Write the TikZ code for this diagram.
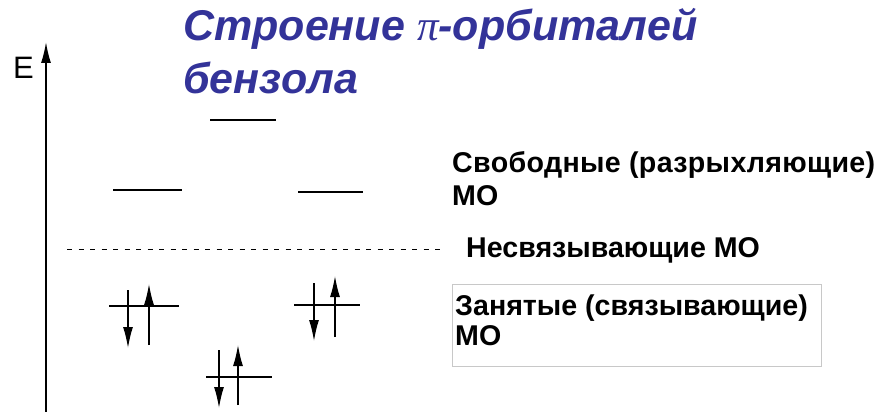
\documentclass[tikz,border=0pt]{standalone}
\usepackage{fontspec}
\setmainfont{Liberation Sans}
\newfontfamily\piserif{Liberation Serif}
\usetikzlibrary{arrows.meta}
\definecolor{titleblue}{RGB}{51,51,153}
\definecolor{boxgrey}{RGB}{200,200,200}
\tikzset{
  level/.style={line width=1.6pt},
  spinup/.style={line width=1.4pt,-{Latex[length=21pt,width=10pt]}},
  spindown/.style={line width=1.4pt,-{Latex[length=21pt,width=10pt]}},
  label/.style={anchor=base west,inner sep=0pt,font=\fontsize{28.6}{30}\selectfont\bfseries,align=left},
}
\begin{document}
\begin{tikzpicture}[x=1pt,y=-1pt]
\useasboundingbox[fill=white] (0,0) rectangle (879,412);

% energy axis
\coordinate (axb) at (46,412);
\coordinate (axt) at (46,42);
\draw[line width=1.6pt,-{Latex[length=21pt,width=10pt]}] (axb) -- (axt);
\node[anchor=base west,inner sep=0pt,font=\fontsize{31}{31}\selectfont] (E) at (13,78) {E};

% title (node baseline is that of its last line)
\node[anchor=base west,inner sep=0pt,text=titleblue,align=left,
      font=\fontsize{43}{52}\selectfont\bfseries\itshape] (title) at (183,93)
  {Строение {\piserif\mdseries π}-орбиталей\\бензола};

% antibonding levels
\coordinate (t1) at (210,120); \coordinate (t2) at (276,120);
\draw[level] (t1) -- (t2);
\coordinate (l1) at (113,190); \coordinate (l2) at (182,190);
\draw[level] (l1) -- (l2);
\coordinate (r1) at (298,192); \coordinate (r2) at (363,192);
\draw[level] (r1) -- (r2);

% nonbonding line
\coordinate (n1) at (67,249); \coordinate (n2) at (440,249);
\draw[line width=1pt,dash pattern=on 5pt off 6.5pt] (n1) -- (n2);

% bonding levels with electron pairs
\coordinate (a1) at (109,306); \coordinate (a2) at (179,306);
\draw[level] (a1) -- (a2);
\coordinate (ad1) at (128,290); \coordinate (ad2) at (128,348);
\draw[spindown] (ad1) -- (ad2);
\coordinate (au1) at (149,345); \coordinate (au2) at (149,284);
\draw[spinup] (au1) -- (au2);

\coordinate (b1) at (294,305); \coordinate (b2) at (360,305);
\draw[level] (b1) -- (b2);
\coordinate (bd1) at (314,283); \coordinate (bd2) at (314,341);
\draw[spindown] (bd1) -- (bd2);
\coordinate (bu1) at (335,337); \coordinate (bu2) at (335,276);
\draw[spinup] (bu1) -- (bu2);

\coordinate (c1) at (206,377); \coordinate (c2) at (272,377);
\draw[level] (c1) -- (c2);
\coordinate (cd1) at (219,350); \coordinate (cd2) at (219,408);
\draw[spindown] (cd1) -- (cd2);
\coordinate (cu1) at (238,405); \coordinate (cu2) at (238,345);
\draw[spinup] (cu1) -- (cu2);

% labels (baseline of the last line)
\node[label] (free) at (452,205)
  {\addfontfeature{LetterSpace=1.2}Свободные (разрыхляющие)\\[3pt]МО};
\node[label] (nonb) at (466,257) {Несвязывающие МО};
\draw[boxgrey,line width=0.8pt] (452,284) rectangle (821,366);
\node[label] (occ) at (455,345) {Занятые (связывающие)\\МО};
\end{tikzpicture}
\end{document}
